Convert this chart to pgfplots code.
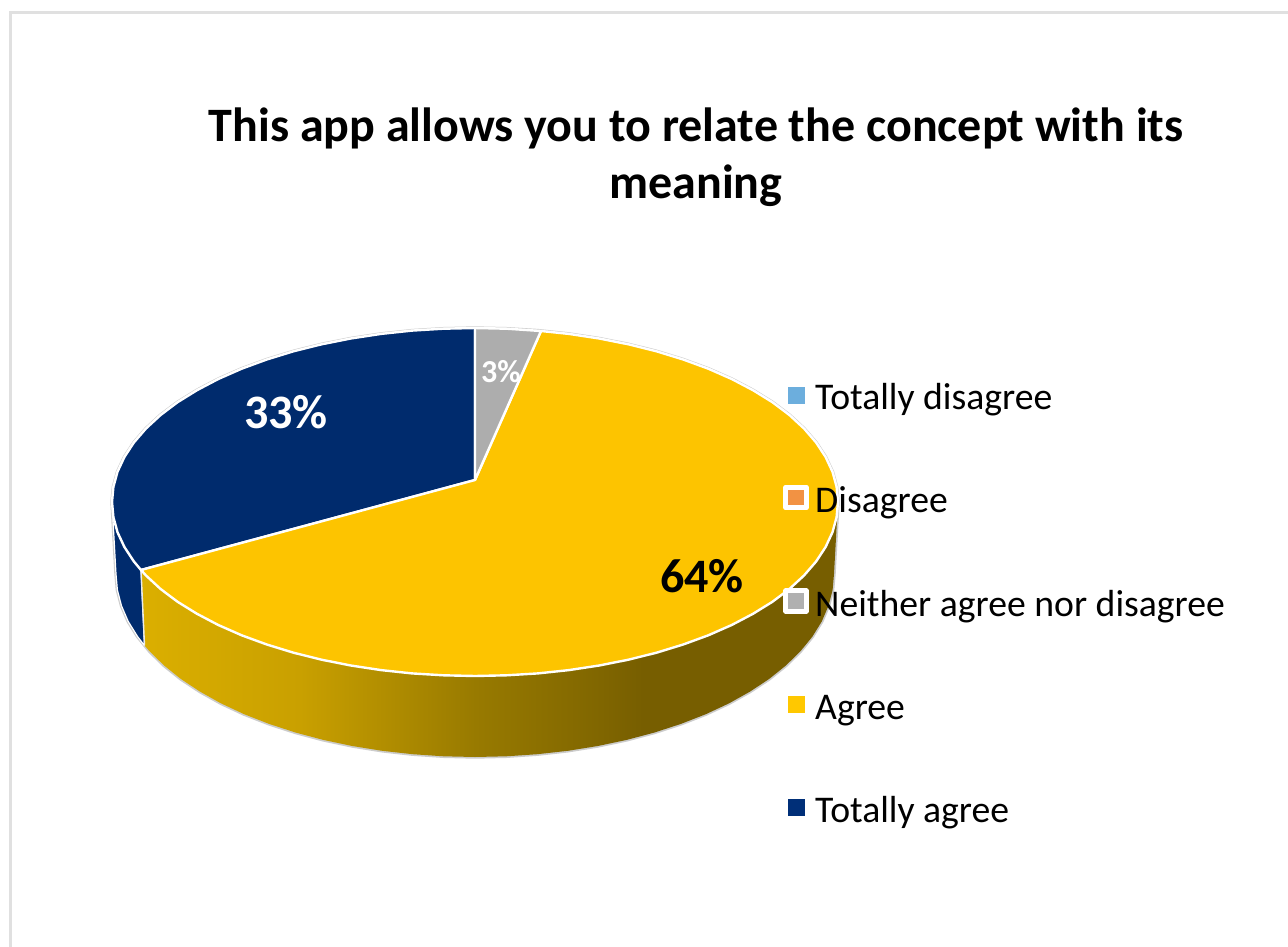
\documentclass[border=0pt]{standalone}
\usepackage{fontspec}
\setmainfont{Carlito}
\usepackage{pgfplots}
\pgfplotsset{compat=1.18}
\definecolor{pieNavy}{HTML}{002B6D}
\definecolor{pieGold}{HTML}{FDC400}
\definecolor{pieGrey}{HTML}{ADADAD}
\definecolor{sideA}{HTML}{DBAF00}
\definecolor{sideB}{HTML}{C9A000}
\definecolor{sideC}{HTML}{987A00}
\definecolor{sideD}{HTML}{806600}
\definecolor{sideDark}{HTML}{775E00}
\definecolor{keyBlue}{HTML}{6CAEDD}
\definecolor{keyOrange}{HTML}{F29243}
\definecolor{keyGrey}{HTML}{B0B0B0}
\definecolor{keyGold}{HTML}{FFC800}
\definecolor{keyNavy}{HTML}{002F78}
% light-to-dark shading of the gold rim, flat over its right-hand part
\pgfdeclarehorizontalshading{rimshade}{100bp}{
  color(0bp)=(sideA);
  color(25bp)=(sideA);
  color(36.4bp)=(sideB);
  color(49bp)=(sideC);
  color(58bp)=(sideD);
  color(61bp)=(sideDark);
  color(100bp)=(sideDark)}
\begin{document}
\begin{tikzpicture}
\begin{axis}[
  width=1288pt, height=947pt, scale only axis,
  xmin=0, xmax=1288, ymin=0, ymax=947, y dir=reverse,
  hide axis, clip=true,
]
% page background
\addplot[fill=white, draw=none] coordinates {(0,0) (1288,0) (1288,947) (0,947)} -- cycle;
% panel border
\addplot[color=black!12, line width=2.6pt] coordinates {(1288,12.5) (10.5,12.5) (10.5,947)};

% thin silhouette round the whole pie
\addplot[draw=black!20, line width=3.4pt, line join=round] coordinates {
 (112,502) (113.4,486.8) (117.5,471.8) (124.4,457) (133.9,442.5) (146,428.5) (160.6,415) (177.6,402.2)
 (197,390.2) (218.3,379) (241.7,368.7) (266.8,359.5) (293.5,351.3) (321.6,344.3) (350.8,338.5) (381.1,333.9)
 (412,330.6) (443.4,328.7) (475,328) (506.6,328.7) (538,330.6) (568.9,333.9) (599.2,338.5) (628.4,344.3)
 (656.5,351.3) (683.2,359.5) (708.3,368.7) (731.7,379) (753,390.2) (772.4,402.2) (789.4,415) (804,428.5)
 (816.1,442.5) (825.6,457) (832.5,471.8) (836.6,486.8) (838,502) (834,574)
 (832.6,590) (828.5,605.8) (821.8,621.4) (812.4,636.6) (800.4,651.3) (785.9,665.5) (769.1,679) (750,691.6)
 (728.9,703.4) (705.8,714.2) (680.9,723.9) (654.5,732.5) (626.7,739.9) (597.8,746) (567.9,750.8) (537.3,754.2)
 (506.3,756.3) (475,757) (443.7,756.3) (412.7,754.2) (382.1,750.8) (352.2,746) (323.3,739.9) (295.5,732.5)
 (269.1,723.9) (244.2,714.2) (221.1,703.4) (200,691.6) (180.9,679) (164.1,665.5) (149.6,651.3) (137.6,636.6)
 (128.2,621.4) (121.5,605.8) (117.4,590) (116,574) (112,502)
} -- cycle;

% rim of the navy slice
\addplot[fill=pieNavy, draw=white, line width=1.2pt, line join=round] coordinates {
 (112,502) (113.4,517.2) (117.5,532.2) (124.4,547) (133.9,561.5) (141,570)
 (144.5,645.5) (137.6,636.6) (128.2,621.4) (121.5,605.8) (117.4,590) (116,574)
} -- cycle;

% rim of the gold slice
\addplot[draw=none, shading=rimshade] coordinates {
 (141,570) (146,575.5) (160.6,589) (177.6,601.8) (197,613.8) (218.3,625) (241.7,635.3) (266.8,644.5)
 (293.5,652.7) (321.6,659.7) (350.8,665.5) (381.1,670.1) (412,673.4) (443.4,675.3) (475,676) (506.6,675.3)
 (538,673.4) (568.9,670.1) (599.2,665.5) (628.4,659.7) (656.5,652.7) (683.2,644.5) (708.3,635.3) (731.7,625)
 (753,613.8) (772.4,601.8) (789.4,589) (804,575.5) (816.1,561.5) (825.6,547) (832.5,532.2) (836.6,517.2) (838,502)
 (834,574) (832.6,590) (828.5,605.8) (821.8,621.4) (812.4,636.6) (800.4,651.3) (785.9,665.5) (769.1,679)
 (750,691.6) (728.9,703.4) (705.8,714.2) (680.9,723.9) (654.5,732.5)
 (626.7,739.9) (597.8,746) (567.9,750.8) (537.3,754.2) (506.3,756.3) (475,757) (443.7,756.3)
 (412.7,754.2) (382.1,750.8) (352.2,746) (323.3,739.9) (295.5,732.5) (269.1,723.9) (244.2,714.2) (221.1,703.4)
 (200,691.6) (180.9,679) (164.1,665.5) (149.6,651.3) (144.5,645.5)
} -- cycle;
\addplot[draw=black!8, line width=1.4pt] coordinates {(141,570) (144.5,645.5)};

% top faces: Totally agree, Agree, Neither
\addplot[fill=pieNavy, draw=white, line width=2.4pt, line join=round] coordinates {
 (475,480) (141,570) (133.9,561.5) (124.4,547) (117.5,532.2) (113.4,517.2) (112,502) (113.4,486.8)
 (117.5,471.8) (124.4,457) (133.9,442.5) (146,428.5) (160.6,415) (177.6,402.2) (197,390.2) (218.3,379)
 (241.7,368.7) (266.8,359.5) (293.5,351.3) (321.6,344.3) (350.8,338.5) (381.1,333.9) (412,330.6) (443.4,328.7) (475,328)
} -- cycle;
\addplot[fill=pieGold, draw=white, line width=2.4pt, line join=round] coordinates {
 (475,480) (541,331) (568.9,333.9) (599.2,338.5) (628.4,344.3) (656.5,351.3) (683.2,359.5) (708.3,368.7)
 (731.7,379) (753,390.2) (772.4,402.2) (789.4,415) (804,428.5) (816.1,442.5) (825.6,457) (832.5,471.8)
 (836.6,486.8) (838,502) (836.6,517.2) (832.5,532.2) (825.6,547) (816.1,561.5) (804,575.5) (789.4,589)
 (772.4,601.8) (753,613.8) (731.7,625) (708.3,635.3) (683.2,644.5) (656.5,652.7) (628.4,659.7) (599.2,665.5)
 (568.9,670.1) (538,673.4) (506.6,675.3) (475,676) (443.4,675.3) (412,673.4) (381.1,670.1) (350.8,665.5)
 (321.6,659.7) (293.5,652.7) (266.8,644.5) (241.7,635.3) (218.3,625) (197,613.8) (177.6,601.8) (160.6,589)
 (146,575.5) (141,570)
} -- cycle;
\addplot[fill=pieGrey, draw=white, line width=2.4pt, line join=round] coordinates {
 (475,480) (475,328) (506.6,328.7) (541,331)
} -- cycle;

% key swatches
\addplot[only marks, color=keyBlue, mark=square*, mark size=8pt, mark options={fill=keyBlue, draw=keyBlue, line width=0pt}] coordinates {(796,395)};
\addplot[only marks, color=keyOrange, mark=square*, mark size=10.3pt, mark options={fill=keyOrange, draw=white, line width=4.7pt, line join=round}] coordinates {(796,497.5)};
\addplot[only marks, color=keyGrey, mark=square*, mark size=10.3pt, mark options={fill=keyGrey, draw=white, line width=4.7pt, line join=round}] coordinates {(796,601)};
\addplot[only marks, color=keyGold, mark=square*, mark size=8pt, mark options={fill=keyGold, draw=keyGold, line width=0pt}] coordinates {(796,704)};
\addplot[only marks, color=keyNavy, mark=square*, mark size=8pt, mark options={fill=keyNavy, draw=keyNavy, line width=0pt}] coordinates {(796,807)};

% key labels
\node[anchor=base west, inner sep=0pt, font=\fontsize{37.7}{45}\selectfont] at (axis cs:815,409) {Totally disagree};
\node[anchor=base west, inner sep=0pt, font=\fontsize{37.7}{45}\selectfont] at (axis cs:815,512) {Disagree};
\node[anchor=base west, inner sep=0pt, font=\fontsize{37.7}{45}\selectfont] at (axis cs:815,616) {Neither agree nor disagree};
\node[anchor=base west, inner sep=0pt, font=\fontsize{37.7}{45}\selectfont] at (axis cs:815,719) {Agree};
\node[anchor=base west, inner sep=0pt, font=\fontsize{37.7}{45}\selectfont] at (axis cs:815,822) {Totally agree};

% share labels
\node[anchor=base, inner sep=0pt, text=white, font=\bfseries\fontsize{48}{56}\selectfont] at (axis cs:286,428) {33\%};
\node[anchor=base, inner sep=0pt, text=black, font=\bfseries\fontsize{48}{56}\selectfont] at (axis cs:702,592) {64\%};
\node[anchor=base, inner sep=0pt, text=white, font=\bfseries\fontsize{32}{38}\selectfont] at (axis cs:501,382) {3\%};

% heading
\node[anchor=base, inner sep=0pt, font=\bfseries\fontsize{48}{57}\selectfont] at (axis cs:696,142) {This app allows you to relate the concept with its};
\node[anchor=base, inner sep=0pt, font=\bfseries\fontsize{48}{57}\selectfont] at (axis cs:696,198) {meaning};
\end{axis}
\end{tikzpicture}
\end{document}
